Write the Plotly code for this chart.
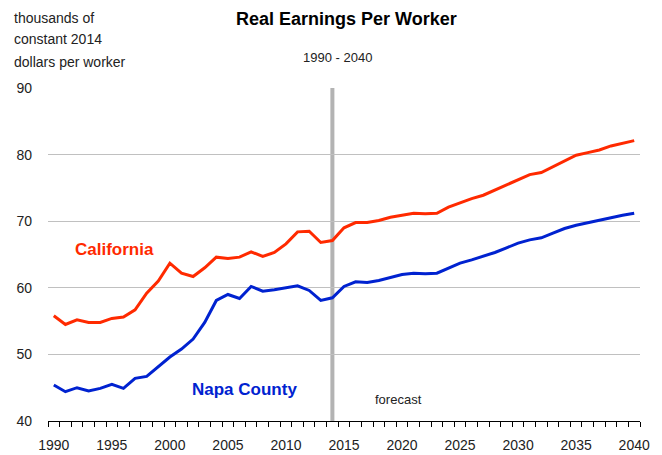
import plotly.graph_objects as go

years = list(range(1990, 2041))
california = [55.8, 54.5, 55.2, 54.8, 54.8, 55.4, 55.6, 56.7, 59.2, 61.0,
              63.7, 62.2, 61.7, 63.0, 64.6, 64.4, 64.6, 65.4, 64.7, 65.3,
              66.6, 68.4, 68.5, 66.8, 67.1, 69.0, 69.8, 69.8, 70.1, 70.6,
              70.9, 71.2, 71.1, 71.2, 72.1, 72.8, 73.4, 73.9, 74.7, 75.5,
              76.3, 77.0, 77.3, 78.2, 79.1, 79.9, 80.3, 80.7, 81.3, 81.7, 82.1]
napa = [45.4, 44.4, 45.0, 44.5, 44.9, 45.5, 44.9, 46.4, 46.7, 48.2,
        49.6, 50.8, 52.3, 54.8, 58.1, 59.0, 58.4, 60.2, 59.5, 59.7,
        60.0, 60.3, 59.6, 58.1, 58.5, 60.2, 60.9, 60.8, 61.1, 61.6,
        62.0, 62.2, 62.1, 62.2, 63.0, 63.7, 64.2, 64.7, 65.3, 66.0,
        66.7, 67.2, 67.5, 68.2, 68.9, 69.4, 69.8, 70.1, 70.5, 70.9, 71.2]
x_tick_labels = [1990, 1995, 2000, 2005, 2010, 2015, 2020, 2025, 2030, 2035, 2040]
y_ticks = [40, 50, 60, 70, 80, 90]
forecast_year = 2014

FONT = "Liberation Sans, Arial, sans-serif"
RED = "#ff2a00"
BLUE = "#0022d0"
TXT = "#222222"

L, R, T, B = 48, 22, 88, 34
PW = 662 - L - R
PH = 455 - T - B


def px(xp):
    return (xp - L) / PW


def py(yp):
    return (455 - B - yp) / PH


fig = go.Figure()
fig.add_trace(go.Scatter(x=years, y=california, mode="lines", name="California",
                         line=dict(color=RED, width=3)))
fig.add_trace(go.Scatter(x=years, y=napa, mode="lines", name="Napa County",
                         line=dict(color=BLUE, width=3)))

fig.add_shape(type="line", x0=forecast_year, x1=forecast_year, xref="x",
              y0=0, y1=1, yref="paper", line=dict(color="#b3b3b3", width=4),
              layer="between")

fig.update_layout(
    width=662, height=455,
    margin=dict(l=L, r=R, t=T, b=B, autoexpand=False),
    paper_bgcolor="white", plot_bgcolor="white",
    showlegend=False,
    font=dict(family=FONT, size=14, color=TXT),
    xaxis=dict(range=[1989.5, 2040.5], tickvals=x_tick_labels, ticks="",
               showgrid=False, zeroline=False, showline=True,
               linecolor="black", linewidth=1, ticklabelstandoff=11,
               tickfont=dict(size=14, family=FONT, color=TXT),
               minor=dict(ticks="outside", tick0=1989.5, dtick=1, ticklen=5,
                          tickcolor="black", tickwidth=1, showgrid=False)),
    yaxis=dict(range=[40, 90], tickvals=y_ticks, showgrid=True,
               gridcolor="#c0c0c0", gridwidth=1, zeroline=False,
               showline=False, ticks="", ticklabelstandoff=15,
               tickfont=dict(size=14, family=FONT, color=TXT)),
)

annos = [
    dict(text="<b>Real Earnings Per Worker</b>", x=346, y=19, size=18, color="black"),
    dict(text="1990 - 2040", x=337, y=57, size=13, color=TXT),
    dict(text="<b>California</b>", x=114, y=249, size=17, color=RED),
    dict(text="<b>Napa County</b>", x=244, y=389, size=17, color=BLUE),
    dict(text="forecast", x=398, y=399, size=13, color=TXT),
]
for a in annos:
    fig.add_annotation(text=a["text"], x=px(a["x"]), y=py(a["y"]), xref="paper", yref="paper",
                       showarrow=False, xanchor="center", yanchor="middle",
                       font=dict(size=a["size"], color=a["color"], family=FONT))

for txt, ypix in [("thousands of", 18), ("constant 2014", 39), ("dollars per worker", 62)]:
    fig.add_annotation(text=txt, x=px(12), xref="paper", y=py(ypix), yref="paper",
                       showarrow=False, xanchor="left", yanchor="middle",
                       font=dict(size=14, color=TXT, family=FONT))

fig.write_html("out.html", config={"displayModeBar": False},
               post_script="document.body.style.margin='0';document.body.style.padding='0';")
